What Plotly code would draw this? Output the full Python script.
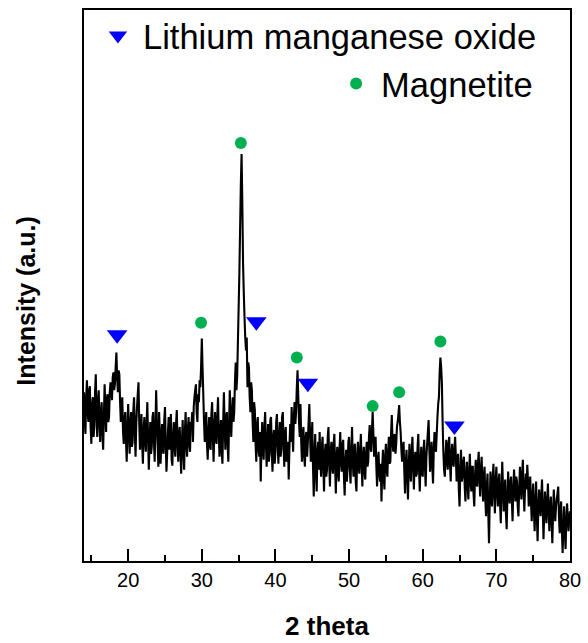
import numpy as np
import plotly.graph_objects as go

# XRD scan: 2-theta from 14 to 80 deg in 0.1 deg steps
two_theta = [round(v, 1) for v in np.arange(14.0, 80.0001, 0.1)]

# Measured intensity (a.u.), twenty points per 2 deg block
intensity = [
    170, 140, 128, 165, 182, 150, 140, 172, 176, 135, 118, 158, 165, 125, 135, 170, 188, 145, 125, 160,  # 14
    172, 138, 120, 150, 160, 128, 112, 145, 178, 155, 130, 162, 168, 140, 145, 170, 180, 175, 162, 185,  # 16
    190, 172, 178, 195, 210, 185, 170, 192, 188, 160, 140, 150, 165, 130, 118, 142, 150, 122, 100, 135,  # 18
    158, 128, 108, 140, 150, 115, 120, 152, 165, 130, 105, 138, 155, 168, 180, 140, 112, 125, 148, 118,  # 20
    98, 132, 145, 120, 110, 138, 160, 125, 92, 118, 140, 108, 115, 145, 150, 120, 100, 135, 172, 140,    # 22
    118, 95, 150, 128, 98, 120, 138, 112, 108, 142, 155, 118, 90, 110, 130, 145, 112, 125, 148, 102,     # 24
    96, 125, 140, 115, 105, 138, 152, 118, 100, 128, 135, 108, 88, 120, 142, 110, 92, 130, 150, 118,     # 26
    105, 132, 145, 118, 110, 140, 138, 150, 120, 155, 165, 172, 178, 150, 140, 168, 160, 182, 175, 195,  # 28
    224, 195, 168, 140, 120, 138, 150, 118, 102, 130, 145, 115, 112, 148, 160, 125, 100, 135, 150, 122,  # 30
    118, 145, 165, 130, 105, 128, 142, 110, 98, 140, 170, 135, 112, 145, 150, 118, 100, 138, 172, 140,   # 32
    125, 150, 165, 140, 150, 180, 200, 172, 185, 220, 255, 290, 335, 380, 410, 360, 300, 270, 245, 225,  # 34
    212, 225, 175, 200, 195, 165, 150, 180, 172, 140, 120, 160, 152, 118, 100, 138, 145, 112, 105, 130,  # 36
    80, 118, 140, 112, 102, 135, 150, 120, 95, 115, 138, 100, 108, 142, 145, 110, 90, 125, 132, 98,      # 38
    110, 140, 148, 118, 98, 125, 140, 105, 112, 145, 150, 118, 95, 128, 135, 100, 105, 120, 82, 115,     # 40
    138, 120, 155, 130, 110, 145, 160, 138, 150, 175, 192, 165, 140, 125, 158, 120, 100, 128, 135, 105,  # 42
    95, 125, 130, 105, 120, 140, 158, 128, 100, 118, 140, 95, 65, 105, 128, 90, 70, 110, 120, 92,        # 44
    130, 100, 85, 115, 125, 95, 70, 108, 118, 85, 92, 125, 135, 98, 75, 110, 120, 95, 88, 118,           # 46
    128, 95, 68, 105, 115, 88, 80, 112, 130, 100, 90, 118, 122, 85, 66, 100, 112, 80, 95, 120,           # 48
    125, 92, 78, 110, 135, 100, 85, 115, 118, 80, 70, 105, 120, 95, 88, 112, 128, 98, 75, 105,           # 50
    115, 90, 82, 108, 120, 95, 100, 125, 137, 115, 110, 130, 150, 128, 105, 118, 125, 95, 75, 100,       # 52
    110, 88, 80, 98, 60, 95, 112, 85, 72, 105, 118, 92, 85, 110, 125, 98, 100, 128, 147, 120,            # 54
    110, 125, 128, 108, 118, 135, 140, 148, 157, 140, 130, 112, 100, 115, 120, 90, 68, 98, 112, 85,      # 56
    62, 95, 118, 90, 80, 110, 125, 98, 72, 102, 110, 85, 88, 115, 128, 92, 70, 100, 115, 88,             # 58
    85, 110, 122, 95, 75, 105, 118, 130, 142, 112, 90, 108, 120, 95, 78, 112, 130, 115, 110, 128,        # 60
    145, 158, 165, 190, 205, 195, 180, 140, 110, 92, 85, 105, 122, 100, 92, 118, 125, 98, 80, 108,       # 62
    118, 100, 95, 112, 125, 105, 80, 98, 108, 72, 55, 90, 112, 80, 85, 100, 105, 75, 60, 88,             # 64
    100, 75, 62, 90, 108, 80, 70, 95, 95, 68, 55, 85, 102, 78, 75, 98, 110, 82, 65, 92,                  # 66
    105, 78, 60, 85, 95, 62, 45, 75, 88, 50, 18, 60, 90, 72, 55, 82, 98, 70, 48, 80,                     # 68
    95, 70, 55, 80, 88, 58, 38, 72, 100, 75, 50, 68, 82, 48, 32, 65, 90, 70, 58, 78,                     # 70
    85, 62, 40, 70, 92, 75, 60, 85, 80, 55, 45, 72, 95, 78, 62, 88, 102, 70, 50, 75,                     # 72
    88, 72, 97, 80, 55, 68, 85, 60, 40, 62, 78, 50, 30, 58, 80, 45, 20, 55, 72, 60,                      # 74
    45, 65, 82, 55, 22, 48, 70, 52, 38, 60, 78, 50, 30, 55, 65, 40, 18, 48, 72, 55,                      # 76
    40, 55, 62, 68, 75, 45, 28, 50, 60, 30, 8, 35, 55, 30, 12, 40, 58, 45, 30, 42,                       # 78
    50,                                                                                                  # 80
]
assert len(intensity) == len(two_theta)

# Phase markers placed above the assigned reflections
lmo_theta = [18.5, 37.4, 44.4, 64.3]
lmo_level = [228, 241, 179, 136]
mag_theta = [29.9, 35.3, 42.9, 53.2, 56.8, 62.4]
mag_level = [240, 421, 205, 156, 170, 221]

FONT = "Arial, Liberation Sans, sans-serif"

fig = go.Figure()
fig.add_trace(go.Scatter(
    x=two_theta, y=intensity, mode="lines",
    line=dict(color="black", width=2.1, simplify=False),
    showlegend=False, hoverinfo="skip",
))
fig.add_trace(go.Scatter(
    x=lmo_theta, y=lmo_level, mode="markers", name="Lithium manganese oxide",
    marker=dict(symbol="triangle-down", size=18, color="#0000FF"),
    legend="legend",
))
fig.add_trace(go.Scatter(
    x=mag_theta, y=mag_level, mode="markers", name="Magnetite",
    marker=dict(symbol="circle", size=12, color="#00B050"),
    legend="legend2",
))

fig.update_layout(
    width=588, height=643,
    margin=dict(l=84, r=16, t=7, b=81),
    paper_bgcolor="white", plot_bgcolor="white",
    font=dict(family=FONT, color="black"),
    legend=dict(
        x=0.0184, y=1.006, xanchor="left", yanchor="top",
        font=dict(size=34.5, color="black"), bgcolor="rgba(0,0,0,0)",
        itemwidth=40,
    ),
    legend2=dict(
        x=0.9344, y=0.919, xanchor="right", yanchor="top",
        font=dict(size=34.5, color="black"), bgcolor="rgba(0,0,0,0)",
        itemwidth=40,
    ),
    xaxis=dict(
        range=[14, 80], dtick=10,
        ticks="inside", ticklen=12, tickwidth=1.5, tickcolor="black",
        minor=dict(dtick=5, ticks="inside", ticklen=6,
                   tickwidth=1.5, tickcolor="black", showgrid=False),
        showline=True, linecolor="black", linewidth=1.5, mirror=True,
        showgrid=False, zeroline=False,
        tickfont=dict(size=20, color="black", family=FONT),
        title=dict(text="<b>2 theta</b>", standoff=27,
                   font=dict(size=26, color="black", family=FONT)),
    ),
    yaxis=dict(
        range=[0, 555], showticklabels=False, ticks="",
        showline=True, linecolor="black", linewidth=1.5, mirror=True,
        showgrid=False, zeroline=False,
    ),
    annotations=[dict(
        text="<b>Intensity (a.u.)</b>", textangle=-90,
        xref="paper", yref="paper", x=(25.5 - 84) / 488, y=(562 - 300) / 555,
        xanchor="center", yanchor="middle", showarrow=False,
        font=dict(size=25, color="black", family=FONT),
    )],
)

fig.write_html("out.html")
